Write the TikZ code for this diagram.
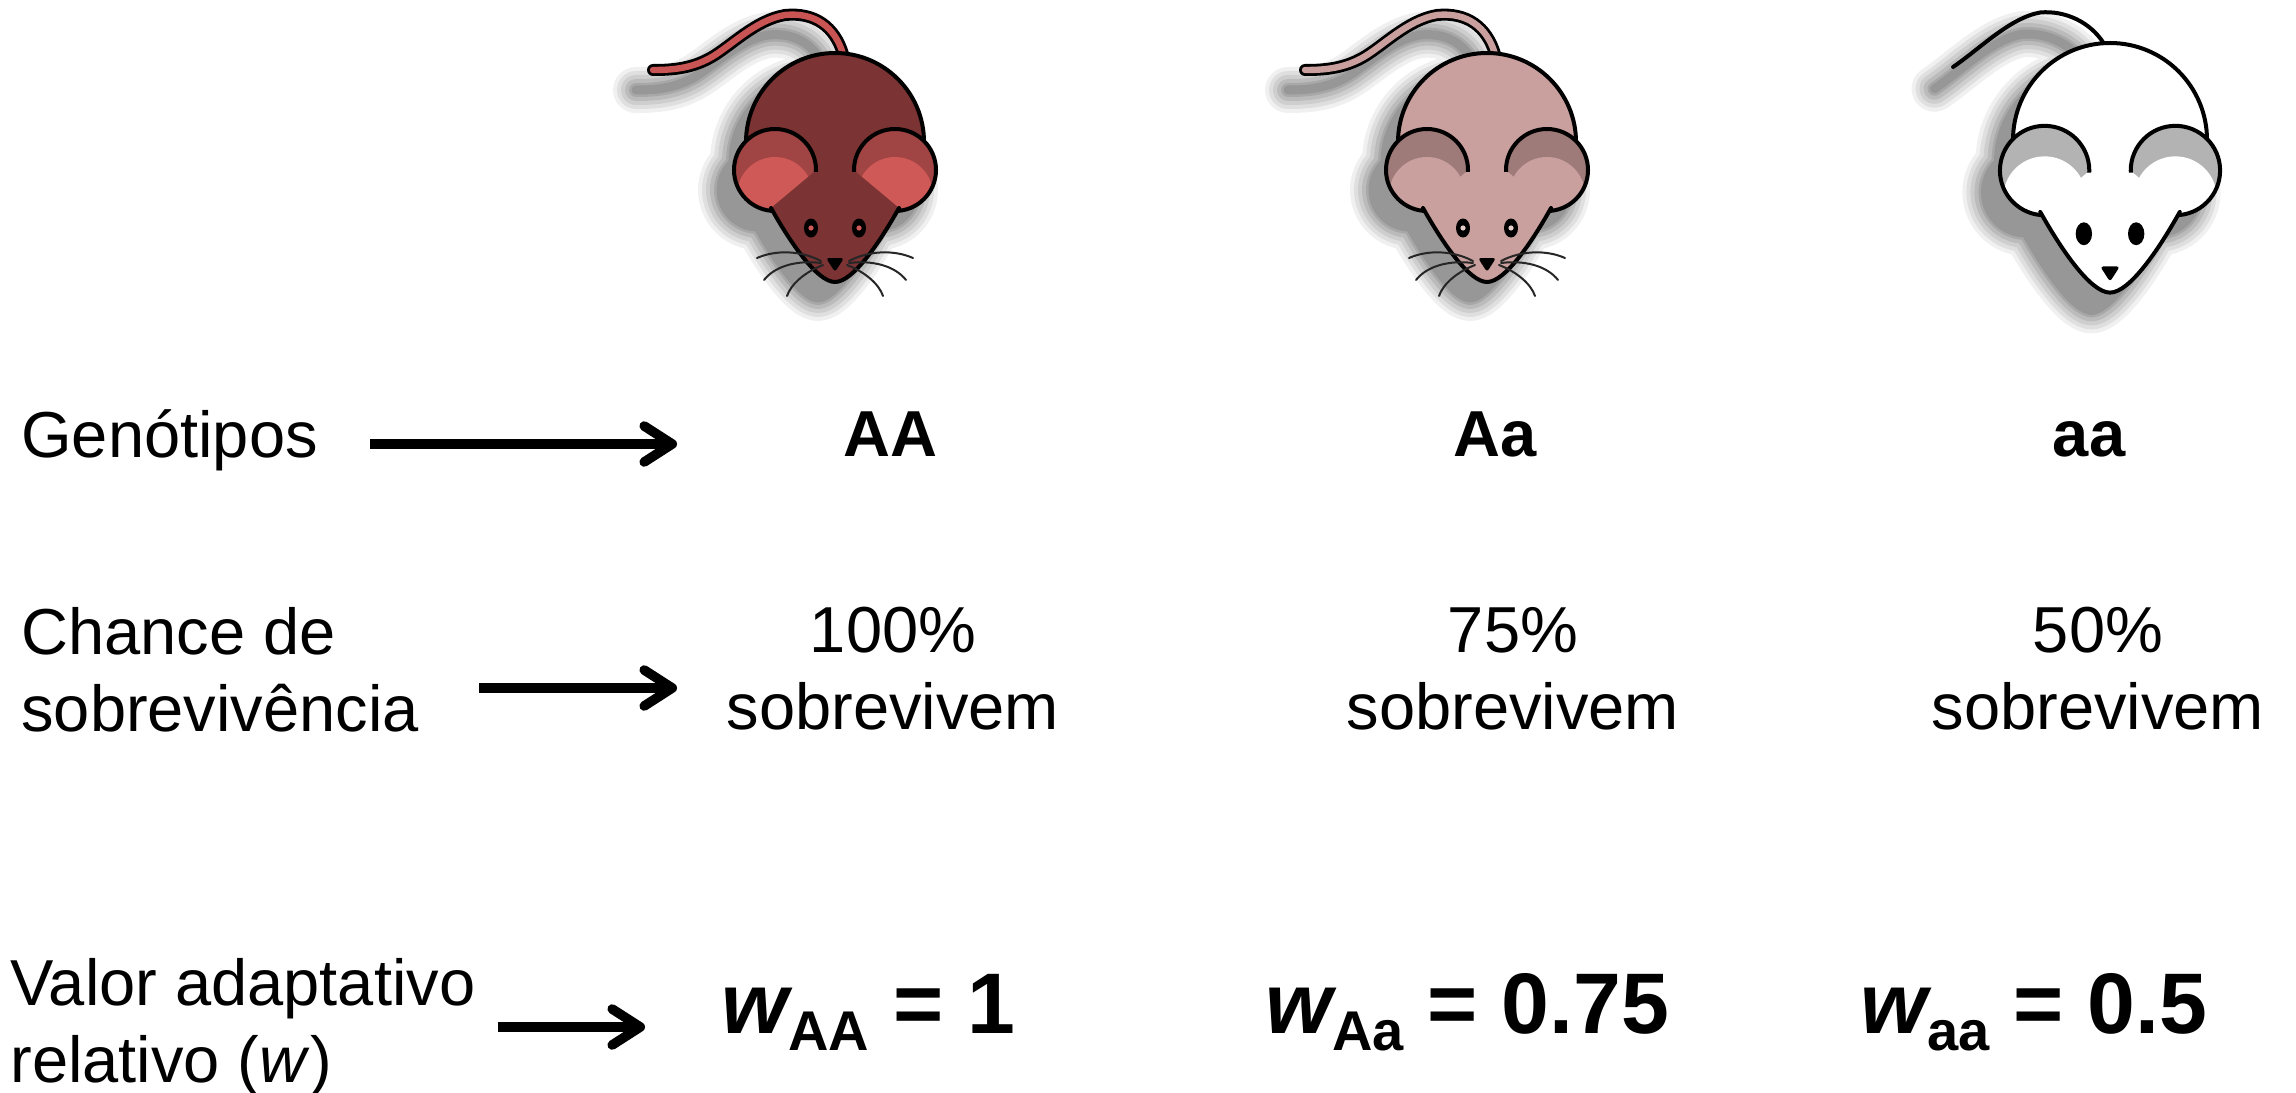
\documentclass[tikz,border=0pt]{standalone}
\usepackage{fontspec}
\setmainfont{Liberation Sans}
\usetikzlibrary{arrows.meta}

\definecolor{redbody}{HTML}{7B3333}
\definecolor{redear}{HTML}{CF5957}
\definecolor{redcres}{HTML}{A04444}
\definecolor{redtail}{HTML}{C85454}
\definecolor{redeye}{HTML}{D05A5A}
\definecolor{pinkbody}{HTML}{C9A09E}
\definecolor{pinkcres}{HTML}{9E7B79}
\definecolor{pinkeye}{HTML}{E2CCCC}
\definecolor{greycres}{HTML}{B3B3B3}

\tikzset{
  lbl/.style={inner sep=0pt, font=\fontsize{32.5}{38.5}\selectfont},
  geno/.style={inner sep=0pt, font=\fontsize{32.5}{38.5}\selectfont\bfseries, anchor=base},
  pointer/.style={line width=4.8pt, -{Straight Barb[length=14pt, width=18pt, round]}},
  outl/.style={draw=black, line width=2pt},
  whisker/.style={draw=black!85, line width=1pt, line cap=round},
  mousetail/.style={draw=black, line width=1.4pt, double=mtail, double distance=3.2pt, line cap=round},
}

% w value with subscript genotype
\newcommand\wval[2]{{\fontsize{43}{50}\selectfont\bfseries\itshape w}\raisebox{-8.5pt}{\fontsize{28}{30}\selectfont\bfseries #1}{\fontsize{43}{50}\selectfont\bfseries\ = #2}}

% cartoon mouse seen from above, body centre at the origin; #1 = tail path
\newcommand\mousefigure[1]{%
  % soft drop shadow
  \begin{scope}[shift={(-17,20)}]
    \foreach \bw/\op in {38/0.06,30/0.07,22/0.08,14/0.09,6/0.10,1/0.10}{%
      \begin{scope}[transparency group, opacity=\op]
        \filldraw[line width=\bw*0.5pt] (0,0) circle[radius=89];
        \filldraw[line width=\bw*0.5pt] (-60,28) circle[radius=41];
        \filldraw[line width=\bw*0.5pt] (60,28) circle[radius=41];
        \filldraw[line width=\bw*0.5pt, line join=round] (-21,30) -- (-64,66)
          .. controls (-45,100) and (-18,140) .. (0,140)
          .. controls (18,140) and (45,100) .. (64,66) -- (21,30) -- cycle;
        \draw[line width=\bw*0.5pt+4pt, line cap=round] #1;
      \end{scope}
    }
  \end{scope}
  % tail and body
  \draw[mousetail] #1;
  \filldraw[fill=mbody, outl] (0,0) circle[radius=89];
  % ears
  \foreach \s in {-1,1}{%
    \begin{scope}
      \clip (\s*60,28) circle[radius=41];
      \fill[mcres] (\s*60,28) circle[radius=41];
      \fill[mear] (\s*60,53) circle[radius=38];
    \end{scope}
    \draw[outl] (\s*60,28) circle[radius=41];
  }
  % face
  \fill[mbody] (-21,30) -- (-64,66)
    .. controls (-45,100) and (-18,140) .. (0,140)
    .. controls (18,140) and (45,100) .. (64,66) -- (21,30) -- cycle;
  \draw[outl, line cap=round] (-64,66)
    .. controls (-45,100) and (-18,140) .. (0,140)
    .. controls (18,140) and (45,100) .. (64,66);
  % eyes and nose
  \foreach \s in {-1,1}{%
    \fill[black] (\s*24,86) ellipse[x radius=\eyerx, y radius=\eyery];
    \fill[meye] (\s*24,86) circle[radius=2.6];
  }
  \fill[black, rounded corners=1.5pt] (-9,116) -- (9,116) -- (0,130) -- cycle;
}

\newcommand\mousewhiskers{%
  \foreach \s in {-1,1}{%
    \begin{scope}[xscale=\s]
      \draw[whisker] (14,119) .. controls (35,108) and (60,108) .. (78,116);
      \draw[whisker] (14,121) .. controls (38,118) and (60,124) .. (71,138);
      \draw[whisker] (12,123) .. controls (30,130) and (44,142) .. (48,154);
    \end{scope}
  }
}

\begin{document}
\begin{tikzpicture}[x=0.5pt, y=-0.5pt]
\useasboundingbox (0,0) rectangle (2296,1092);

% ---- mice ----
\def\eyerx{7}\def\eyery{9.5}
\colorlet{mbody}{redbody}\colorlet{mear}{redear}\colorlet{mcres}{redcres}
\colorlet{mtail}{redtail}\colorlet{meye}{redeye}
\begin{scope}[shift={(835,142)}]
  \mousefigure{(8,-88) .. controls (0,-115) and (-20,-130) .. (-50,-127) .. controls (-80,-122) and (-105,-95) .. (-125,-84) .. controls (-145,-73) and (-165,-72) .. (-182,-72)}
  \mousewhiskers
\end{scope}

\colorlet{mbody}{pinkbody}\colorlet{mear}{pinkbody}\colorlet{mcres}{pinkcres}
\colorlet{mtail}{pinkbody}\colorlet{meye}{pinkeye}
\begin{scope}[shift={(1487,142)}]
  \mousefigure{(8,-88) .. controls (0,-115) and (-20,-130) .. (-50,-127) .. controls (-80,-122) and (-105,-95) .. (-125,-84) .. controls (-145,-73) and (-165,-72) .. (-182,-72)}
  \mousewhiskers
\end{scope}

\def\eyerx{7.5}\def\eyery{10.5}
\colorlet{mbody}{white}\colorlet{mear}{white}\colorlet{mcres}{greycres}
\colorlet{mtail}{black}\colorlet{meye}{black}
\begin{scope}[shift={(2110,140)}, scale=1.09]
  \tikzset{mousetail/.style={draw=black, line width=2pt, line cap=round}}
  \mousefigure{(-6,-89) .. controls (-18,-108) and (-41,-119) .. (-64,-117) .. controls (-92,-112) and (-119,-84) .. (-144,-67)}
\end{scope}

% ---- row 1: genotypes ----
\node[lbl, anchor=base west] (gen) at (21,457) {Genótipos};
\node[geno] (AA) at (890,456) {AA};
\node[geno] (Aa) at (1495,456) {Aa};
\node[geno] (aa) at (2089,456) {aa};
\coordinate (g0) at (370,444);
\coordinate (g1) at (677,444);
\draw[pointer] (g0) -- (g1);

% ---- row 2: survival ----
\node[lbl, anchor=north west, align=left] (chance) at (21,607) {Chance de\\sobrevivência};
\node[lbl, anchor=north, align=center] (sAA) at (893,607) {100\%\\sobrevivem};
\node[lbl, anchor=north, align=center] (sAa) at (1513,607) {75\%\\sobrevivem};
\node[lbl, anchor=north, align=center] (saa) at (2098,607) {50\%\\sobrevivem};
\coordinate (c0) at (479,688);
\coordinate (c1) at (677,688);
\draw[pointer] (c0) -- (c1);

% ---- row 3: relative fitness ----
\node[lbl, anchor=north west, align=left] (val) at (10,958) {Valor adaptativo\\relativo (\textit{w})};
\node[inner sep=0pt, anchor=base west] (wAA) at (721,1033) {\wval{AA}{1}};
\node[inner sep=0pt, anchor=base west] (wAa) at (1265,1033) {\wval{Aa}{0.75}};
\node[inner sep=0pt, anchor=base west] (waa) at (1860,1033) {\wval{aa}{0.5}};
\coordinate (v0) at (498,1027);
\coordinate (v1) at (645,1027);
\draw[pointer] (v0) -- (v1);
\end{tikzpicture}
\end{document}
